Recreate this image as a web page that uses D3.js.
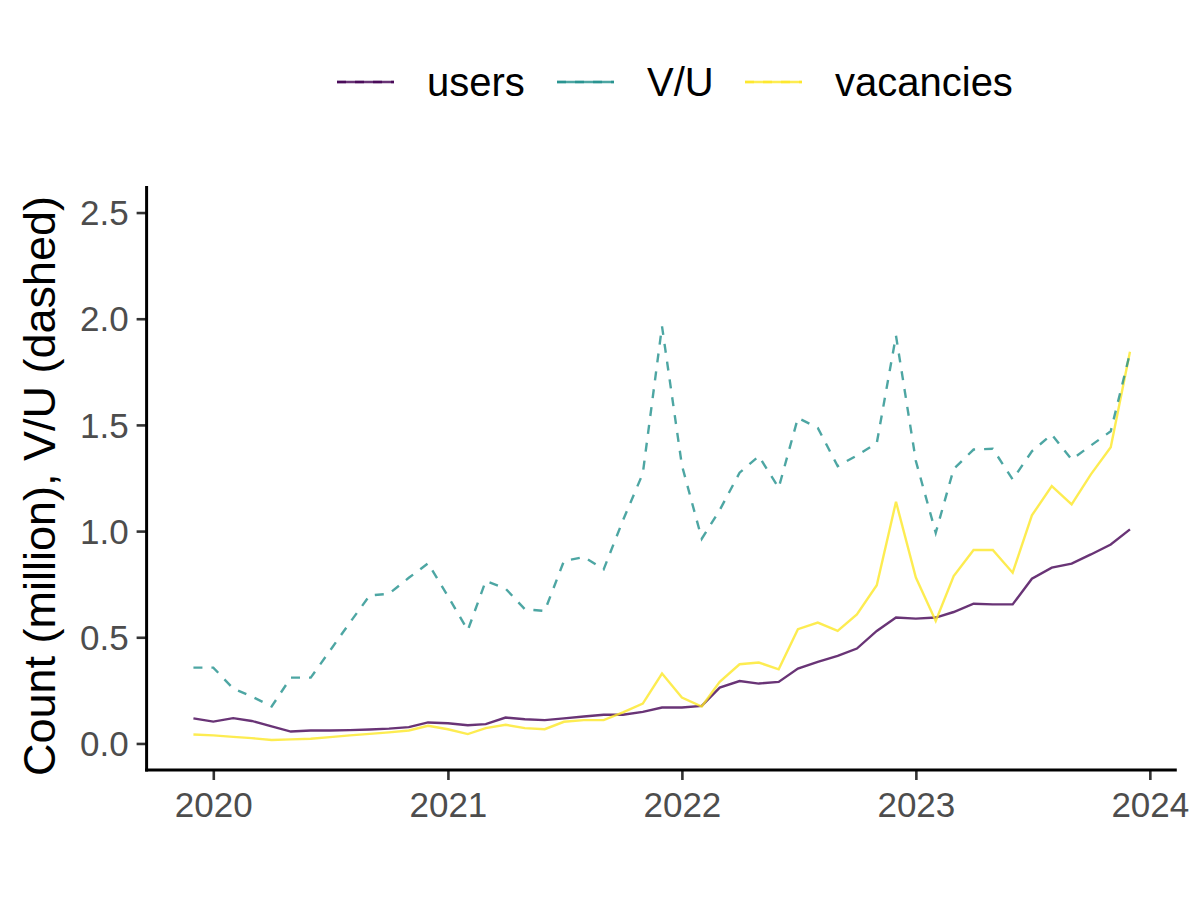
<!DOCTYPE html>
<html>
<head>
<meta charset="utf-8">
<script src="https://cdn.jsdelivr.net/npm/d3@7"></script>
<style>
  body { margin: 0; background: #fff; }
  text { font-family: "Liberation Sans", Arial, sans-serif; }
</style>
</head>
<body>
<div id="chart"></div>
<script>
// monthly observations, Dec 2019 .. Dec 2023
var months = [
  "2019-12",
  "2020-01","2020-02","2020-03","2020-04","2020-05","2020-06","2020-07","2020-08","2020-09","2020-10","2020-11","2020-12",
  "2021-01","2021-02","2021-03","2021-04","2021-05","2021-06","2021-07","2021-08","2021-09","2021-10","2021-11","2021-12",
  "2022-01","2022-02","2022-03","2022-04","2022-05","2022-06","2022-07","2022-08","2022-09","2022-10","2022-11","2022-12",
  "2023-01","2023-02","2023-03","2023-04","2023-05","2023-06","2023-07","2023-08","2023-09","2023-10","2023-11","2023-12"
];
var users = [
  0.118,
  0.103, 0.119, 0.106, 0.080, 0.056, 0.061, 0.061, 0.063, 0.066, 0.070, 0.077, 0.099,
  0.095, 0.086, 0.091, 0.122, 0.114, 0.110, 0.118, 0.127, 0.135, 0.135, 0.149, 0.169,
  0.169, 0.177, 0.263, 0.294, 0.282, 0.290, 0.353, 0.384, 0.412, 0.447, 0.530, 0.593,
  0.588, 0.593, 0.619, 0.658, 0.655, 0.655, 0.776, 0.828, 0.847, 0.890, 0.937, 1.008
];
var vacancies = [
  0.042,
  0.038, 0.031, 0.025, 0.016, 0.019, 0.022, 0.030, 0.038, 0.045, 0.052, 0.061, 0.083,
  0.067, 0.044, 0.072, 0.088, 0.072, 0.067, 0.102, 0.110, 0.110, 0.146, 0.188, 0.329,
  0.216, 0.174, 0.290, 0.373, 0.381, 0.349, 0.538, 0.569, 0.530, 0.608, 0.745, 1.138,
  0.781, 0.577, 0.788, 0.911, 0.911, 0.804, 1.074, 1.212, 1.126, 1.267, 1.395, 1.844
];
var vu = [
  0.357,
  0.357, 0.259, 0.221, 0.174, 0.310, 0.310, 0.437, 0.569, 0.697, 0.705, 0.780, 0.848,
  0.694, 0.533, 0.765, 0.729, 0.632, 0.624, 0.859, 0.878, 0.820, 1.050, 1.271, 1.964,
  1.310, 0.964, 1.099, 1.275, 1.353, 1.204, 1.533, 1.486, 1.306, 1.356, 1.414, 1.920,
  1.330, 0.992, 1.293, 1.384, 1.388, 1.243, 1.376, 1.455, 1.337, 1.403, 1.470, 1.839
];
var yTicks = [0, 0.5, 1, 1.5, 2, 2.5];
var xTickYears = [2020, 2021, 2022, 2023, 2024];
var seriesNames = ["users", "V/U", "vacancies"];
var seriesColors = ["#440154", "#21908C", "#FDE725"];

var W = 1200, H = 900;
var panel = { left: 146.6, right: 1176.8, top: 186, bottom: 770 };

var parse = d3.timeParse("%Y-%m");
var dates = months.map(parse);

var svg = d3.select("#chart").append("svg")
  .attr("width", W).attr("height", H);

// ggplot style 5% expansion
var x0 = dates[0], x1 = dates[dates.length - 1];
var span = x1 - x0;
var x = d3.scaleTime()
  .domain([new Date(+x0 - span * 0.05), new Date(+x1 + span * 0.05)])
  .range([panel.left, panel.right]);
var y = d3.scaleLinear()
  .domain([-0.125, 2.625])
  .range([panel.bottom, panel.top]);

var line = d3.line()
  .x(function(d) { return x(d.date); })
  .y(function(d) { return y(d.v); });

function rows(vals) {
  return vals.map(function(v, i) { return { date: dates[i], v: v }; });
}

// solid lines: users then vacancies, then the dashed V/U on top
svg.append("path").datum(rows(users))
  .attr("d", line).attr("fill", "none")
  .attr("stroke", seriesColors[0]).attr("stroke-opacity", 0.8)
  .attr("stroke-width", 2.4);
svg.append("path").datum(rows(vacancies))
  .attr("d", line).attr("fill", "none")
  .attr("stroke", seriesColors[2]).attr("stroke-opacity", 0.8)
  .attr("stroke-width", 2.4);
svg.append("path").datum(rows(vu))
  .attr("d", line).attr("fill", "none")
  .attr("stroke", seriesColors[1]).attr("stroke-opacity", 0.8)
  .attr("stroke-width", 2.4)
  .attr("stroke-dasharray", "9,9");

// axes
var xAxis = d3.axisBottom(x)
  .tickValues(xTickYears.map(function(yr) { return new Date(yr, 0, 1); }))
  .tickFormat(d3.timeFormat("%Y"))
  .tickSizeOuter(0).tickSizeInner(10).tickPadding(12);
var gx = svg.append("g")
  .attr("transform", "translate(0," + panel.bottom + ")")
  .call(xAxis);

var yAxis = d3.axisLeft(y)
  .tickValues(yTicks)
  .tickFormat(d3.format(".1f"))
  .tickSizeOuter(0).tickSizeInner(10).tickPadding(8);
var gy = svg.append("g")
  .attr("transform", "translate(" + panel.left + ",0)")
  .call(yAxis);

[gx, gy].forEach(function(g) {
  g.select(".domain").remove();
  g.selectAll(".tick line").attr("stroke", "#333333").attr("stroke-width", 2.6);
  g.selectAll(".tick text")
    .attr("fill", "#4d4d4d")
    .style("font-size", "35px");
});
gy.selectAll(".tick text").attr("dy", "0.35em");

// axis lines
svg.append("line")
  .attr("x1", panel.left - 1.5).attr("x2", panel.right)
  .attr("y1", panel.bottom).attr("y2", panel.bottom)
  .attr("stroke", "#000").attr("stroke-width", 3);
svg.append("line")
  .attr("x1", panel.left).attr("x2", panel.left)
  .attr("y1", panel.top).attr("y2", panel.bottom + 1.5)
  .attr("stroke", "#000").attr("stroke-width", 3);

// y title
svg.append("text")
  .attr("transform", "translate(55,486) rotate(-90)")
  .attr("text-anchor", "middle")
  .style("font-size", "45px")
  .attr("fill", "#000")
  .text("Count (million), V/U (dashed)");

// legend
var legendX = [337, 557, 745];
var legendY = 82;
var lg = svg.append("g");
seriesNames.forEach(function(name, i) {
  var kx = legendX[i];
  lg.append("line")
    .attr("x1", kx).attr("x2", kx + 57)
    .attr("y1", legendY).attr("y2", legendY)
    .attr("stroke", seriesColors[i]).attr("stroke-opacity", 0.8)
    .attr("stroke-width", 2.4);
  lg.append("line")
    .attr("x1", kx).attr("x2", kx + 57)
    .attr("y1", legendY).attr("y2", legendY)
    .attr("stroke", seriesColors[i]).attr("stroke-opacity", 0.8)
    .attr("stroke-width", 2.4)
    .attr("stroke-dasharray", "9,9");
  lg.append("text")
    .attr("x", kx + 90).attr("y", legendY)
    .attr("dy", "0.35em")
    .style("font-size", "40px")
    .attr("fill", "#000")
    .text(name);
});
</script>
</body>
</html>
